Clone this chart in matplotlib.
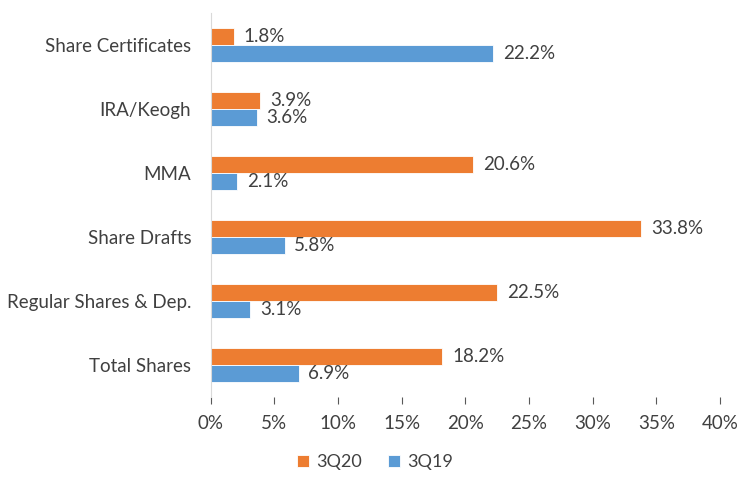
import matplotlib.pyplot as plt
import numpy as np

categories = ['Share Certificates', 'IRA/Keogh', 'MMA', 'Share Drafts',
              'Regular Shares & Dep.', 'Total Shares']
q3_20 = [1.8, 3.9, 20.6, 33.8, 22.5, 18.2]
q3_19 = [22.2, 3.6, 2.1, 5.8, 3.1, 6.9]
xticks = [0, 5, 10, 15, 20, 25, 30, 35, 40]

plt.rcParams['font.family'] = ['Lato', 'DejaVu Sans']

orange = '#ED7D31'
blue = '#5B9BD5'
text_color = '#404040'

fig = plt.figure(figsize=(7.5, 4.79), dpi=100)
ax = fig.add_axes([0.281, 0.171, 0.679, 0.802])

y = np.arange(len(categories))
h = 0.26

b1 = ax.barh(y - h / 2, q3_20, height=h, color=orange, edgecolor='white', linewidth=0.6, label='3Q20')
b2 = ax.barh(y + h / 2, q3_19, height=h, color=blue, edgecolor='white', linewidth=0.6, label='3Q19')

for bars, vals in [(b1, q3_20), (b2, q3_19)]:
    for bar, v in zip(bars, vals):
        ax.annotate(f'{v}%', (v, bar.get_y() + bar.get_height() / 2),
                    xytext=(7, 0), textcoords='offset points',
                    va='center', ha='left', fontsize=13.5, color=text_color)

ax.set_ylim(len(categories) - 0.5, -0.5)
ax.set_xlim(0, 40)
ax.set_yticks(y)
ax.set_yticklabels(categories, fontsize=13.5, color=text_color)
ax.set_xticks(xticks)
ax.set_xticklabels([f'{t}%' for t in xticks], fontsize=13.5, color=text_color)

for s in ['top', 'right', 'bottom']:
    ax.spines[s].set_visible(False)
ax.spines['left'].set_color('#D9D9D9')
ax.tick_params(axis='y', length=0, pad=14)
ax.tick_params(axis='x', length=5, color='#595959', pad=8)

fig.legend(handles=[b1, b2], loc='center', bbox_to_anchor=(0.5, 0.035), ncol=2, frameon=False,
           fontsize=13, handlelength=0.7, handleheight=0.7, columnspacing=1.4,
           handletextpad=0.4, labelcolor=text_color)

plt.savefig('out.png', dpi=100)
